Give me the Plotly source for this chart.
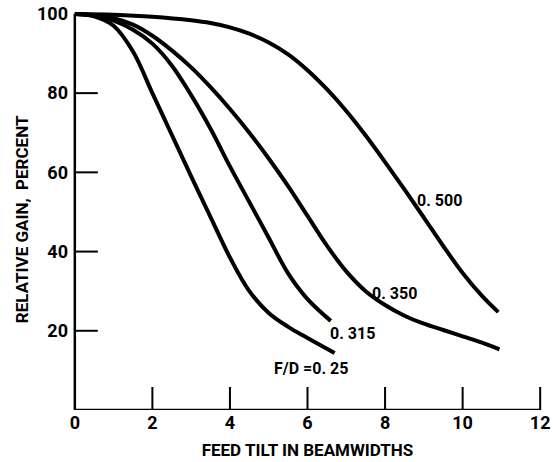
import plotly.graph_objects as go

# ---- data ----
x_025 = [0, 0.5, 1.0, 1.5, 2.0, 2.5, 3.0, 3.5, 4.0, 4.5, 5.0, 5.5, 6.0, 6.7]
y_025 = [100, 99.4, 97, 90.5, 80, 69.5, 59, 48.7, 38.5, 30, 24.5, 21, 18.2, 14.4]

x_0315 = [0, 0.5, 1.0, 1.5, 2.0, 2.5, 3.0, 3.5, 4.0, 4.5, 5.0, 5.5, 6.0, 6.6]
y_0315 = [100, 99.6, 98.3, 96, 92.5, 87, 79.5, 71, 61.5, 52.5, 43.5, 34.5, 28, 22.5]

x_035 = [0, 0.5, 1.0, 1.5, 2.0, 2.5, 3.0, 3.5, 4.0, 4.5, 5.0, 5.5, 6.0, 6.5, 7.0,
         7.5, 8.0, 8.5, 9.0, 9.5, 10.0, 10.5, 10.95]
y_035 = [100, 99.7, 98.9, 97.3, 94.5, 90.8, 86.5, 81.5, 76, 70, 63.5, 56.5, 49, 41.5, 35,
         30, 26.5, 23.8, 21.8, 20.2, 18.6, 17, 15.3]

x_05 = [0, 1, 2, 3, 3.5, 4, 4.5, 5, 5.5, 6, 6.5, 7, 7.5, 8, 8.5, 9, 9.5, 10, 10.5, 10.92]
y_05 = [100, 99.8, 99.3, 98.4, 97.7, 96.6, 95, 92.8, 89.8, 85.8, 81, 75.5, 69.3, 62.6,
        55.7, 48.6, 41.4, 34.6, 28.8, 24.7]

series_labels = ["F/D =0. 25", "0. 315", "0. 350", "0. 500"]
label_x = [6.08, 7.16, 8.24, 9.4]
label_y = [10.6, 19.4, 29.5, 53]

x_ticks = [0, 2, 4, 6, 8, 10, 12]
y_ticks = [20, 40, 60, 80, 100]

FONT = "Roboto, Liberation Sans Narrow, sans-serif"

fig = go.Figure()
for xs, ys in [(x_025, y_025), (x_0315, y_0315), (x_035, y_035), (x_05, y_05)]:
    fig.add_trace(go.Scatter(x=xs, y=ys, mode="lines",
                             line=dict(color="black", width=4, shape="spline", smoothing=1.0),
                             showlegend=False, hoverinfo="skip"))

for t, lx, ly in zip(series_labels, label_x, label_y):
    fig.add_annotation(x=lx, y=ly, text="<b>" + t + "</b>", showarrow=False,
                       font=dict(family=FONT, size=16, color="black"),
                       xanchor="center", yanchor="middle")

# y-axis title, placed as in the reference
fig.add_annotation(xref="paper", yref="paper", x=-0.098, y=0.473,
                   text="<b>RELATIVE GAIN,  PERCENT</b>", textangle=-90, showarrow=False,
                   font=dict(family=FONT, size=17, color="black"),
                   xanchor="center", yanchor="middle")

shapes = []
# axis lines
shapes.append(dict(type="line", xref="x", yref="y", x0=0, x1=0, y0=0, y1=100,
                   line=dict(color="black", width=2.5)))
shapes.append(dict(type="line", xref="x", yref="y", x0=0, x1=12, y0=0, y1=0,
                   line=dict(color="black", width=2.5)))
# inside tick marks
for xv in x_ticks[1:]:
    shapes.append(dict(type="line", xref="x", yref="y", ysizemode="pixel", yanchor=0,
                       x0=xv, x1=xv, y0=0, y1=23, line=dict(color="black", width=2)))
for yv in y_ticks[:-1]:
    shapes.append(dict(type="line", xref="x", yref="y", xsizemode="pixel", xanchor=0,
                       x0=0, x1=23, y0=yv, y1=yv, line=dict(color="black", width=2)))

fig.update_layout(
    width=553, height=462,
    margin=dict(l=69, r=3, t=6, b=52),
    paper_bgcolor="white", plot_bgcolor="white",
    shapes=shapes,
    font=dict(family=FONT, color="black"),
    xaxis=dict(range=[-0.15, 12.15], tickvals=x_ticks,
               ticktext=["<b>%d</b>" % v for v in x_ticks],
               showgrid=False, zeroline=False, showline=False, ticks="",
               ticklabeloverflow="allow",
               tickfont=dict(family=FONT, size=18, color="black"),
               title=dict(text="<b>FEED TILT IN BEAMWIDTHS</b>",
                          font=dict(family=FONT, size=17, color="black"), standoff=12)),
    yaxis=dict(range=[0, 102], tickvals=y_ticks,
               ticktext=["<b>%d</b>" % v for v in y_ticks],
               showgrid=False, zeroline=False, showline=False, ticks="",
               tickfont=dict(family=FONT, size=18, color="black")),
)

fig.write_html("out.html")
